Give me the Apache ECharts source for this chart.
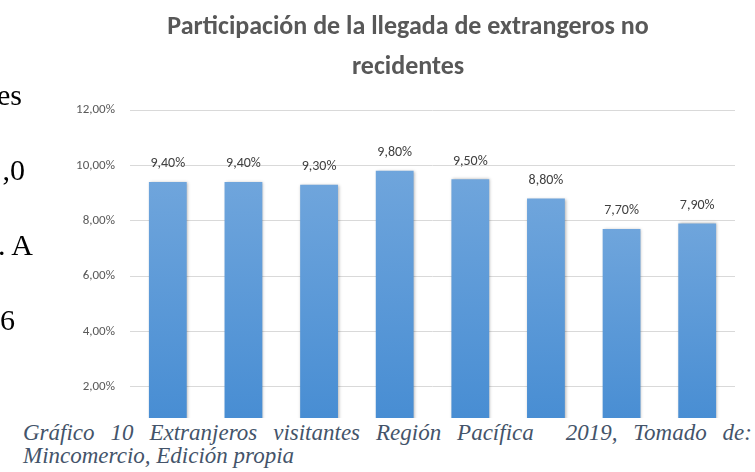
<!DOCTYPE html>
<html>
<head>
<meta charset="utf-8">
<script src="https://cdn.jsdelivr.net/npm/echarts@6/dist/echarts.min.js"></script>
<style>
  html, body {
    margin: 0;
    padding: 0;
    background: #fff;
    overflow: hidden;
  }
  .page {
    position: relative;
    width: 755px;
    height: 472px;
    overflow: hidden;
  }
  #chart {
    position: absolute;
    left: 0;
    top: 0;
    width: 755px;
    height: 472px;
  }
  .frag {
    position: absolute;
    font-family: "Liberation Serif", serif;
    font-size: 30px;
    line-height: 30px;
    color: #000;
    white-space: nowrap;
    text-align: right;
  }
  .caption {
    position: absolute;
    left: 0;
    top: 418px;
    width: 755px;
    height: 54px;
    background: #fff;
    font-family: "Liberation Serif", serif;
    font-style: italic;
    font-size: 23px;
    color: #44546a;
  }
  .caption div {
    position: absolute;
    left: 23px;
    width: 729px;
    line-height: 22px;
    white-space: nowrap;
  }
  .caption .l1 {
    top: 4px;
    text-align: justify;
    text-align-last: justify;
    white-space: normal;
  }
  .caption .l2 {
    top: 27px;
  }
</style>
</head>
<body>
<div class="page">
  <div id="chart"></div>
  <!-- bits of the document text cut off at the left edge -->
  <div class="frag" style="right:733px; top:80px;">es</div>
  <div class="frag" style="right:730px; top:155px;">,0</div>
  <div class="frag" style="right:722px; top:230px;">. A</div>
  <div class="frag" style="right:740px; top:305px;">6</div>
  <div class="caption">
    <div class="l1">Gráfico 10 Extranjeros visitantes Región Pacífica &nbsp;2019, Tomado de:</div>
    <div class="l2">Mincomercio, Edición propia</div>
  </div>
</div>
<script>
// categories are cut off in the picture
const categories = ["2012", "2013", "2014", "2015", "2016", "2017", "2018", "2019"];
const shares = [9.4, 9.4, 9.3, 9.8, 9.5, 8.8, 7.7, 7.9];
const yTicks = [0, 2, 4, 6, 8, 10, 12];

const pct = (v) => v.toFixed(2).replace(".", ",") + "%";
const fontStack = "Carlito, Lato, 'Open Sans', sans-serif";

const chart = echarts.init(document.getElementById("chart"));

const option = {
  animation: false,
  title: {
    text: "Participación de la llegada de extrangeros no\nrecidentes",
    left: 403,
    top: 2,
    textAlign: "center",
    textStyle: {
      fontFamily: fontStack,
      fontSize: 26,
      fontWeight: "bold",
      color: "#585858",
      lineHeight: 40,
    },
  },
  grid: {
    left: 130,
    right: 20,
    top: 110,
    bottom: 30,
  },
  xAxis: {
    type: "category",
    data: categories,
    axisLabel: { show: false },
    axisTick: { show: false },
    axisLine: { lineStyle: { color: "#d9d9d9" } },
  },
  yAxis: {
    type: "value",
    min: yTicks[0],
    max: yTicks[yTicks.length - 1],
    interval: 2,
    axisLine: { show: false },
    axisTick: { show: false },
    axisLabel: {
      formatter: pct,
      fontFamily: fontStack,
      fontSize: 13,
      color: "#595959",
      margin: 15,
    },
    splitLine: { lineStyle: { color: "#d9d9d9", width: 1 } },
  },
  series: [
    {
      type: "bar",
      data: shares,
      barWidth: "50%",
      itemStyle: {
        color: new echarts.graphic.LinearGradient(0, 0, 0, 1, [
          { offset: 0, color: "#6fa5dc" },
          { offset: 1, color: "#448bd2" },
        ]),
        shadowColor: "rgba(0,0,0,0.3)",
        shadowBlur: 3,
        shadowOffsetX: 1,
      },
      label: {
        show: true,
        position: "top",
        distance: 11,
        formatter: (p) => pct(p.value),
        fontFamily: fontStack,
        fontSize: 14,
        color: "#404040",
      },
    },
  ],
};

chart.setOption(option);
</script>
</body>
</html>
